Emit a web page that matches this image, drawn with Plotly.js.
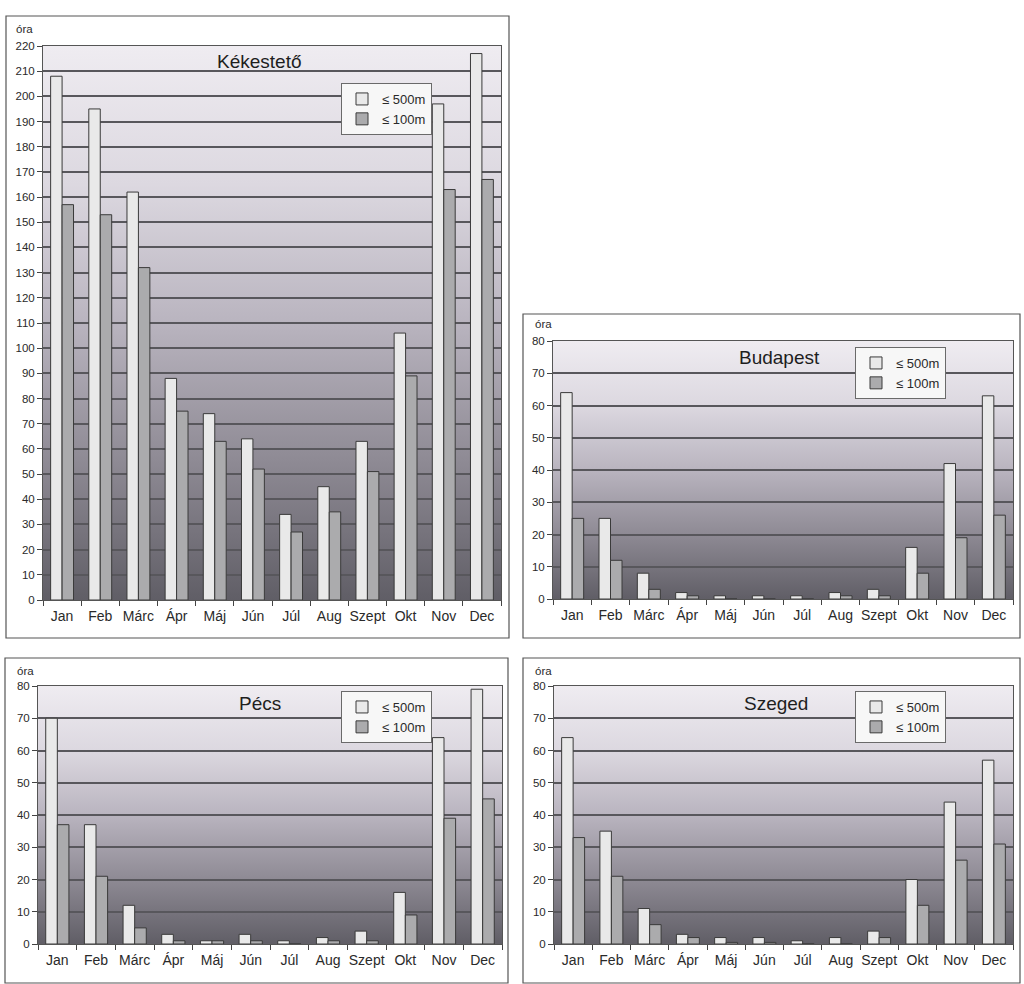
<!DOCTYPE html>
<html>
<head>
<meta charset="utf-8">
<script src="https://cdn.plot.ly/plotly-3.0.1.min.js"></script>
<style>
html,body{margin:0;padding:0;background:#fff;}
#chart{width:1024px;height:984px;}
</style>
</head>
<body>
<div id="chart"></div>
<script>
// ---- data ----
const months = ['Jan','Feb','Márc','Ápr','Máj','Jún','Júl','Aug','Szept','Okt','Nov','Dec'];
const seriesNames = ['≤ 500m', '≤ 100m'];
const stations = ['Kékestető', 'Budapest', 'Pécs', 'Szeged'];
const unitLabel = 'óra';

const kekesteto500 = [208, 195, 162, 88, 74, 64, 34, 45, 63, 106, 197, 217];
const kekesteto100 = [157, 153, 132, 75, 63, 52, 27, 35, 51, 89, 163, 167];

const budapest500 = [64, 25, 8, 2, 1, 1, 1, 2, 3, 16, 42, 63];
const budapest100 = [25, 12, 3, 1, 0, 0, 0, 1, 1, 8, 19, 26];

const pecs500 = [70, 37, 12, 3, 1, 3, 1, 2, 4, 16, 64, 79];
const pecs100 = [37, 21, 5, 1, 1, 1, 0, 1, 1, 9, 39, 45];

const szeged500 = [64, 35, 11, 3, 2, 2, 1, 2, 4, 20, 44, 57];
const szeged100 = [33, 21, 6, 2, 0.5, 0.5, 0, 0, 2, 12, 26, 31];

const yMax = [220, 80, 80, 80];

// ---- styling ----
const W = 1024, H = 984;
const px = v => v / W;
const py = v => 1 - v / H;
const FONT = 'Liberation Sans, Arial, Helvetica, sans-serif';
const col500 = '#e9e9e9';
const col100 = '#ababad';

// plot areas in pixels [x0, x1, yTop, yBottom]
const areas = [
  [43, 501, 46, 600],
  [553, 1013, 341, 599],
  [38, 502, 686, 944],
  [554, 1013, 686, 944]
];
// outer boxes [x0, x1, y0, y1]
const boxes = [
  [6, 509, 16, 638],
  [523, 1020, 314, 638],
  [5, 508, 658, 983],
  [523, 1020, 658, 983]
];
const titlePos = [[259, 61], [779, 358], [260, 703], [776, 703]];
const legendPos = [[341, 83], [855, 347], [341, 691], [855, 691]];
const unitPos = [[14, 29], [533, 324], [15, 671], [533, 671]];

const data500 = [kekesteto500, budapest500, pecs500, szeged500];
const data100 = [kekesteto100, budapest100, pecs100, szeged100];

const gradSvg = '<svg xmlns="http://www.w3.org/2000/svg" width="100" height="100" viewBox="0 0 100 100" preserveAspectRatio="none">' +
  '<defs><linearGradient id="g" x1="0" y1="0" x2="0" y2="1">' +
  '<stop offset="0" stop-color="#efecf1"/>' +
  '<stop offset="0.25" stop-color="#dcd8e0"/>' +
  '<stop offset="0.5" stop-color="#b9b4bf"/>' +
  '<stop offset="0.75" stop-color="#8e8a94"/>' +
  '<stop offset="1" stop-color="#605e66"/>' +
  '</linearGradient></defs><rect x="0" y="0" width="100" height="100" fill="url(#g)"/></svg>';
const gradUrl = 'data:image/svg+xml;charset=utf-8,' + encodeURIComponent(gradSvg);

const traces = [];
const layout = {
  width: W, height: H,
  margin: {l: 0, r: 0, t: 0, b: 0},
  paper_bgcolor: '#ffffff',
  plot_bgcolor: 'rgba(0,0,0,0)',
  font: {family: FONT, color: '#2a2a2a'},
  barmode: 'group',
  bargap: 0.4,
  bargroupgap: 0,
  hovermode: false,
  shapes: [],
  annotations: [],
  images: []
};

for (let i = 0; i < 4; i++) {
  const n = i === 0 ? '' : String(i + 1);
  const xa = 'x' + n, ya = 'y' + n;
  const lg = 'legend' + n;
  traces.push({
    type: 'bar', x: months, y: data500[i], name: seriesNames[0],
    xaxis: xa, yaxis: ya, legend: lg,
    marker: {color: col500, line: {color: '#3a3a3a', width: 1}}
  });
  traces.push({
    type: 'bar', x: months, y: data100[i], name: seriesNames[1],
    xaxis: xa, yaxis: ya, legend: lg,
    marker: {color: col100, line: {color: '#3a3a3a', width: 1}}
  });
  const a = areas[i];
  layout['xaxis' + n] = {
    domain: [px(a[0]), px(a[1])],
    anchor: ya,
    type: 'category',
    showline: true, linecolor: '#555', linewidth: 1, mirror: true,
    ticks: 'outside', ticklen: 5, tickcolor: '#444', tickson: 'boundaries',
    tickangle: 0, ticklabelstandoff: 3,
    tickfont: {size: 14, color: '#2a2a2a', family: FONT},
    showgrid: false, fixedrange: true
  };
  layout['yaxis' + n] = {
    domain: [py(a[3]), py(a[2])],
    anchor: xa,
    range: [0, yMax[i]],
    dtick: 10,
    showline: true, linecolor: '#555', linewidth: 1, mirror: true,
    ticks: 'outside', ticklen: 5, tickcolor: '#444',
    tickfont: {size: 11.5, color: '#2a2a2a', family: FONT},
    showgrid: true, gridcolor: '#58575c', gridwidth: 2,
    zeroline: false, fixedrange: true
  };
  layout[lg] = {
    x: px(legendPos[i][0]), y: py(legendPos[i][1]),
    xanchor: 'left', yanchor: 'top',
    bgcolor: '#f7f7f7', bordercolor: '#6a6a6a', borderwidth: 1,
    font: {size: 13, color: '#2a2a2a', family: FONT},
    itemwidth: 30, tracegroupgap: 0,
    traceorder: 'normal'
  };
  layout.images.push({
    source: gradUrl, xref: xa + ' domain', yref: ya + ' domain',
    x: 0, y: 1, sizex: 1, sizey: 1, xanchor: 'left', yanchor: 'top',
    sizing: 'stretch', layer: 'below'
  });
  const b = boxes[i];
  layout.shapes.push({
    type: 'rect', xref: 'paper', yref: 'paper',
    x0: px(b[0]), x1: px(b[1]), y0: py(b[3]), y1: py(b[2]),
    line: {color: '#555', width: 1.2}, fillcolor: 'rgba(0,0,0,0)', layer: 'below'
  });
  layout.annotations.push({
    text: stations[i], xref: 'paper', yref: 'paper',
    x: px(titlePos[i][0]), y: py(titlePos[i][1]),
    xanchor: 'center', yanchor: 'middle', showarrow: false,
    font: {size: 19, color: '#1e1e1e', family: FONT}
  });
  layout.annotations.push({
    text: unitLabel, xref: 'paper', yref: 'paper',
    x: px(unitPos[i][0]), y: py(unitPos[i][1]),
    xanchor: 'left', yanchor: 'middle', showarrow: false,
    font: {size: 11.5, color: '#2a2a2a', family: FONT}
  });
}

Plotly.newPlot('chart', traces, layout, {displayModeBar: false, staticPlot: true});
</script>
</body>
</html>
